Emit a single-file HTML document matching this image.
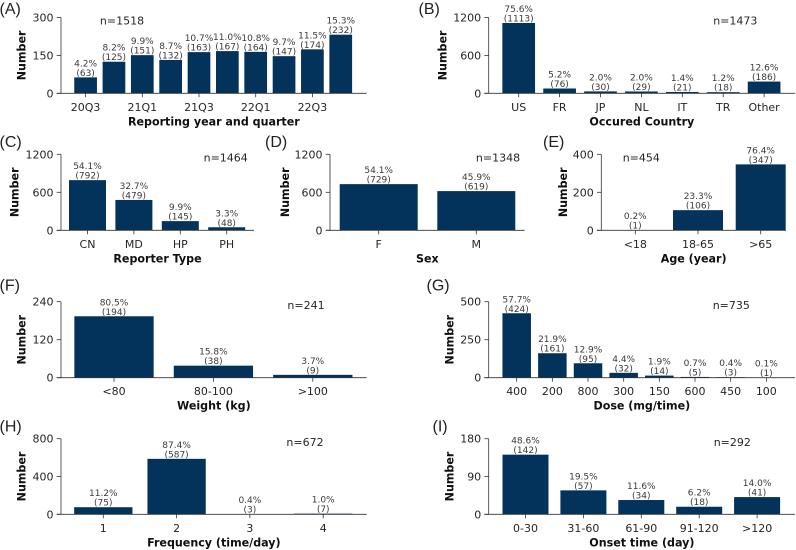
<!DOCTYPE html>
<html>
<head>
<meta charset="utf-8">
<title>Nine-panel bar charts</title>
<style>
html,body{margin:0;padding:0;background:#fff;width:796px;height:550px;overflow:hidden}
svg{display:block}
text{font-family:"DejaVu Sans",sans-serif}
.panel-letter{font-family:"Liberation Sans",sans-serif;font-size:16px;fill:#222}
.tick{font-size:11px;fill:#262626}
.axis-title{font-size:11.1px;font-weight:bold;fill:#111}
.val{font-size:9px;fill:#3a3a3a}
.n{font-size:11px;fill:#262626}
</style>
</head>
<body>
<svg id="chart" xmlns="http://www.w3.org/2000/svg" width="796" height="550" viewBox="0 0 796 550"></svg>
<script>
// Panel A
const aCategories = ["20Q3","20Q4","21Q1","21Q2","21Q3","21Q4","22Q1","22Q2","22Q3","22Q4"];
const aValues = [63,125,151,132,163,167,164,147,174,232];
const aPercents = ["4.2%","8.2%","9.9%","8.7%","10.7%","11.0%","10.8%","9.7%","11.5%","15.3%"];
const aYTicks = [0,150,300];
// Panel B
const bCategories = ["US","FR","JP","NL","IT","TR","Other"];
const bValues = [1113,76,30,29,21,18,186];
const bPercents = ["75.6%","5.2%","2.0%","2.0%","1.4%","1.2%","12.6%"];
const bYTicks = [0,600,1200];
// Panel C
const cCategories = ["CN","MD","HP","PH"];
const cValues = [792,479,145,48];
const cPercents = ["54.1%","32.7%","9.9%","3.3%"];
const cYTicks = [0,600,1200];
// Panel D
const dCategories = ["F","M"];
const dValues = [729,619];
const dPercents = ["54.1%","45.9%"];
const dYTicks = [0,600,1200];
// Panel E
const eCategories = ["<18","18-65",">65"];
const eValues = [1,106,347];
const ePercents = ["0.2%","23.3%","76.4%"];
const eYTicks = [0,200,400];
// Panel F
const fCategories = ["<80","80-100",">100"];
const fValues = [194,38,9];
const fPercents = ["80.5%","15.8%","3.7%"];
const fYTicks = [0,120,240];
// Panel G
const gCategories = ["400","200","800","300","150","600","450","100"];
const gValues = [424,161,95,32,14,5,3,1];
const gPercents = ["57.7%","21.9%","12.9%","4.4%","1.9%","0.7%","0.4%","0.1%"];
const gYTicks = [0,250,500];
// Panel H
const hCategories = ["1","2","3","4"];
const hValues = [75,587,3,7];
const hPercents = ["11.2%","87.4%","0.4%","1.0%"];
const hYTicks = [0,400,800];
// Panel I
const iCategories = ["0-30","31-60","61-90","91-120",">120"];
const iValues = [142,57,34,18,41];
const iPercents = ["48.6%","19.5%","11.6%","6.2%","14.0%"];
const iYTicks = [0,90,180];

const SVGNS = "http://www.w3.org/2000/svg";
const root = document.getElementById("chart");
const BAR = "#03335b";
const SPINE = "#333333";

function node(parent, tag, attrs, txt) {
  const el = document.createElementNS(SVGNS, tag);
  for (const k in attrs) el.setAttribute(k, attrs[k]);
  if (txt !== undefined) el.textContent = txt;
  parent.appendChild(el);
  return el;
}

function drawPanel(p) {
  const g = node(root, "g", {});
  
  

  const yMax = p.yTicks[p.yTicks.length - 1];
  const yScale = v => p.bottom - (v / yMax) * (p.bottom - p.top);
  const xScale = i => p.first + i * p.step;

  const letter = node(g, "text", {x: p.letterX, y: p.letterY, class: "panel-letter"}, "(" + p.id.toUpperCase() + ")");
  
  

  p.values.forEach((v, i) => {
    const cx = xScale(i);
    const top = yScale(v);
    const bar = node(g, "rect", {x: cx - p.width / 2, y: top, width: p.width, height: p.bottom - top, fill: BAR});
    
    

    const pct = node(g, "text", {x: cx, y: top - 11, "text-anchor": "middle", class: "val"}, p.percents[i]);
    
    

    const cnt = node(g, "text", {x: cx, y: top - 1.5, "text-anchor": "middle", class: "val"}, "(" + v + ")");
    
    
  });

  p.yTicks.forEach(t => {
    const y = yScale(t);
    const tick = node(g, "line", {x1: p.left - 4.3, x2: p.left, y1: y, y2: y, stroke: SPINE, "stroke-width": 0.8});
    
    
    const lab = node(g, "text", {x: p.left - 7.5, y: y + 4, "text-anchor": "end", class: "tick"}, t);
    
    
  });

  p.categories.forEach((c, i) => {
    if (i % p.every !== 0) return;
    const x = xScale(i);
    const tick = node(g, "line", {x1: x, x2: x, y1: p.bottom, y2: p.bottom + 4, stroke: SPINE, "stroke-width": 0.8});
    
    
    const lab = node(g, "text", {x: x, y: p.bottom + 17.5, "text-anchor": "middle", class: "tick"}, c);
    
    
  });

  const ySpine = node(g, "line", {x1: p.left, x2: p.left, y1: p.top, y2: p.bottom, stroke: SPINE, "stroke-width": 0.8});
  
  

  const xSpine = node(g, "line", {x1: p.left - 4.3, x2: p.right, y1: p.bottom, y2: p.bottom, stroke: SPINE, "stroke-width": 0.8});
  
  

  const xt = node(g, "text", {x: (p.left + p.right) / 2, y: p.bottom + 32, "text-anchor": "middle", class: "axis-title"}, p.xTitle);
  
  

  const cy = (p.top + p.bottom) / 2;
  const yt = node(g, "text", {x: 0, y: 0, "text-anchor": "middle", class: "axis-title", transform: "translate(" + (p.yTitleX + 4) + "," + cy + ") rotate(-90)"}, "Number");
  
  

  const nt = node(g, "text", {x: p.nX, y: p.nY + 4, "text-anchor": "middle", class: "n"}, "n=" + p.n);
  
  
}

drawPanel({id:"a",categories:aCategories,values:aValues,percents:aPercents,yTicks:aYTicks,n:1518,xTitle:"Reporting year and quarter",every:2,
  left:61,right:366.7,top:17.5,bottom:93.3,first:85.6,step:28.35,width:22.7,yTitleX:21.7,nX:122,nY:20.7,letterX:-0.5,letterY:14});
drawPanel({id:"b",categories:bCategories,values:bValues,percents:bPercents,yTicks:bYTicks,n:1473,xTitle:"Occured Country",every:1,
  left:488.7,right:795,top:17.5,bottom:93.3,first:518.7,step:40.9,width:32.7,yTitleX:442.3,nX:735.3,nY:20.7,letterX:418.5,letterY:14});
drawPanel({id:"c",categories:cCategories,values:cValues,percents:cPercents,yTicks:cYTicks,n:1464,xTitle:"Reporter Type",every:1,
  left:61,right:254,top:154.3,bottom:230.3,first:87.5,step:46.4,width:37,yTitleX:14.3,nX:225.7,nY:157.7,letterX:-0.5,letterY:147});
drawPanel({id:"d",categories:dCategories,values:dValues,percents:dPercents,yTicks:dYTicks,n:1348,xTitle:"Sex",every:1,
  left:330,right:524.7,top:154.3,bottom:230.3,first:378.7,step:97.6,width:78,yTitleX:285,nX:498,nY:157.7,letterX:265,letterY:147});
drawPanel({id:"e",categories:eCategories,values:eValues,percents:ePercents,yTicks:eYTicks,n:454,xTitle:"Age (year)",every:1,
  left:601.3,right:786,top:154.3,bottom:230.3,first:635.3,step:62.7,width:50,yTitleX:563,nX:641.3,nY:157.7,letterX:543,letterY:147});
drawPanel({id:"f",categories:fCategories,values:fValues,percents:fPercents,yTicks:fYTicks,n:241,xTitle:"Weight (kg)",every:1,
  left:61,right:366.7,top:301.7,bottom:377.7,first:114,step:99.4,width:79.3,yTitleX:21.7,nX:306,nY:305,letterX:-0.5,letterY:290.5});
drawPanel({id:"g",categories:gCategories,values:gValues,percents:gPercents,yTicks:gYTicks,n:735,xTitle:"Dose (mg/time)",every:1,
  left:488.7,right:795,top:301.7,bottom:377.7,first:516.7,step:35.66,width:28.5,yTitleX:449.7,nX:731.3,nY:305,letterX:426.5,letterY:290.5});
drawPanel({id:"h",categories:hCategories,values:hValues,percents:hPercents,yTicks:hYTicks,n:672,xTitle:"Frequency (time/day)",every:1,
  left:61,right:366.7,top:438.7,bottom:514.3,first:103.3,step:73.3,width:58.3,yTitleX:21.7,nX:305,nY:442,letterX:-0.5,letterY:431.5});
drawPanel({id:"i",categories:iCategories,values:iValues,percents:iPercents,yTicks:iYTicks,n:292,xTitle:"Onset time (day)",every:1,
  left:488.7,right:795,top:438.7,bottom:514.3,first:525.5,step:57.9,width:46,yTitleX:449.7,nX:732.3,nY:442,letterX:432.5,letterY:431.5});
</script>
</body>
</html>
